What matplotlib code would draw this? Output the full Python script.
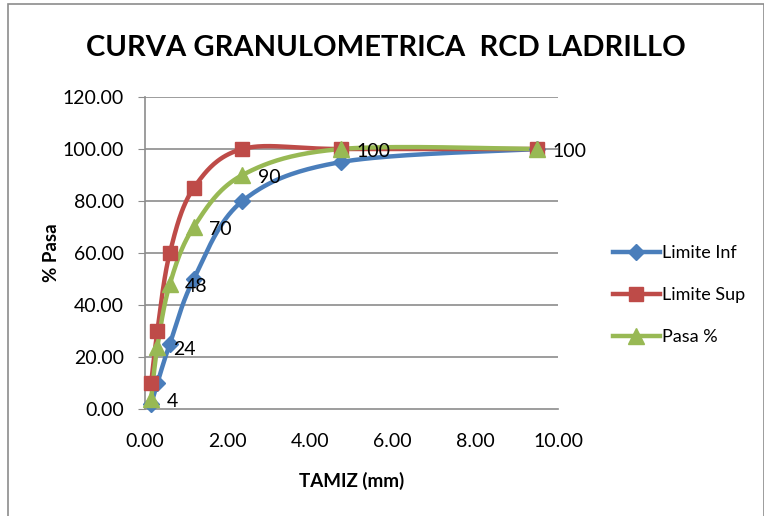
import numpy as np
import matplotlib
matplotlib.use("Agg")
import matplotlib.pyplot as plt
from matplotlib.lines import Line2D
from matplotlib.patches import Rectangle

tamiz = [0.15, 0.30, 0.60, 1.18, 2.36, 4.75, 9.50]
limite_inf = [2, 10, 25, 50, 80, 95, 100]
limite_sup = [10, 30, 60, 85, 100, 100, 100]
pasa = [4, 24, 48, 70, 90, 100, 100]
pasa_labels = ["4", "24", "48", "70", "90", "100", "100"]

series_names = ["Limite Inf", "Limite Sup", "Pasa %"]
colors = ["#4A7EBB", "#BE4B48", "#98B954"]
markers = ["D", "s", "^"]
msizes = [8, 10, 11]

FONT = ["Lato", "DejaVu Sans"]
plt.rcParams['font.family'] = FONT

fig = plt.figure(figsize=(7.64, 5.16), dpi=100)
ax = fig.add_axes([145/764, (516-409)/516, (558-145)/764, (409-97)/516])
ax.set_xlim(0, 10)
ax.set_ylim(0, 120)

W, H = 413.0, 312.0


def smooth(xs, ys, n=40):
    xs = np.asarray(xs, float) / 10 * W
    ys = np.asarray(ys, float) / 120 * H
    P = np.column_stack([xs, ys])
    out = []
    m = len(P)
    for i in range(m - 1):
        p0 = P[i - 1] if i > 0 else P[i]
        p1 = P[i]
        p2 = P[i + 1]
        p3 = P[i + 2] if i + 2 < m else P[i + 1]
        c1 = p1 + (p2 - p0) / 6
        c2 = p2 - (p3 - p1) / 6
        t = np.linspace(0, 1, n)[:, None]
        seg = ((1 - t) ** 3) * p1 + 3 * ((1 - t) ** 2) * t * c1 + 3 * (1 - t) * t ** 2 * c2 + t ** 3 * p2
        out.append(seg if i == 0 else seg[1:])
    S = np.vstack(out)
    return S[:, 0] / W * 10, S[:, 1] / H * 120


for yv in range(20, 121, 20):
    ax.axhline(yv, color="#8C8C8C", lw=1.2, zorder=1)

for ys, c, mk, ms in zip([limite_inf, limite_sup, pasa], colors, markers, msizes):
    sx, sy = smooth(tamiz, ys)
    ax.plot(sx, sy, color=c, lw=3.2, zorder=3, clip_on=False, solid_capstyle="round")
    ax.plot(tamiz, ys, ls="none", marker=mk, ms=ms, color=c, mec=c, zorder=4, clip_on=False)

for xv, yv, lab in zip(tamiz, pasa, pasa_labels):
    ax.annotate(lab, (xv, yv), xytext=(11, -2), textcoords="offset points",
                ha="left", va="center", fontsize=14, color="black", zorder=5)

for s in ["top", "right"]:
    ax.spines[s].set_visible(False)
ax.spines["left"].set_color("#8C8C8C")
ax.spines["bottom"].set_color("#8C8C8C")
ax.spines["left"].set_linewidth(1.2)
ax.spines["bottom"].set_linewidth(1.2)
ax.set_xticks(np.arange(0, 10.01, 2))
ax.set_yticks(np.arange(0, 120.01, 20))
ax.xaxis.set_major_formatter(matplotlib.ticker.FormatStrFormatter("%.2f"))
ax.yaxis.set_major_formatter(matplotlib.ticker.FormatStrFormatter("%.2f"))
ax.tick_params(axis="y", length=5, color="#8C8C8C", labelsize=14, pad=10)
ax.tick_params(axis="x", length=0, labelsize=14, pad=17)

ax.set_xlabel("TAMIZ (mm)", fontsize=13.5, fontweight="bold", labelpad=16)
ax.set_ylabel("% Pasa", fontsize=13.5, fontweight="bold", labelpad=2)

fig.text(0.505, 0.907, "CURVA GRANULOMETRICA  RCD LADRILLO", ha="center", va="center",
         fontsize=21, fontweight="bold")

handles = [Line2D([0], [0], color=c, lw=3.2, marker=mk, ms=ms, mec=c)
           for c, mk, ms in zip(colors, markers, msizes)]
fig.legend(handles, series_names, loc="center left", bbox_to_anchor=(600/764, 0.428),
           frameon=False, fontsize=13, handlelength=2.6, handletextpad=0.12,
           labelspacing=1.45, borderpad=0.2)

fig.patches.append(Rectangle((8/764, -0.01), 0.99, 1.0 - 4/516 + 0.01, transform=fig.transFigure,
                             fill=False, edgecolor="#8C8C8C", lw=1.2))

fig.savefig("out.png", dpi=100)
